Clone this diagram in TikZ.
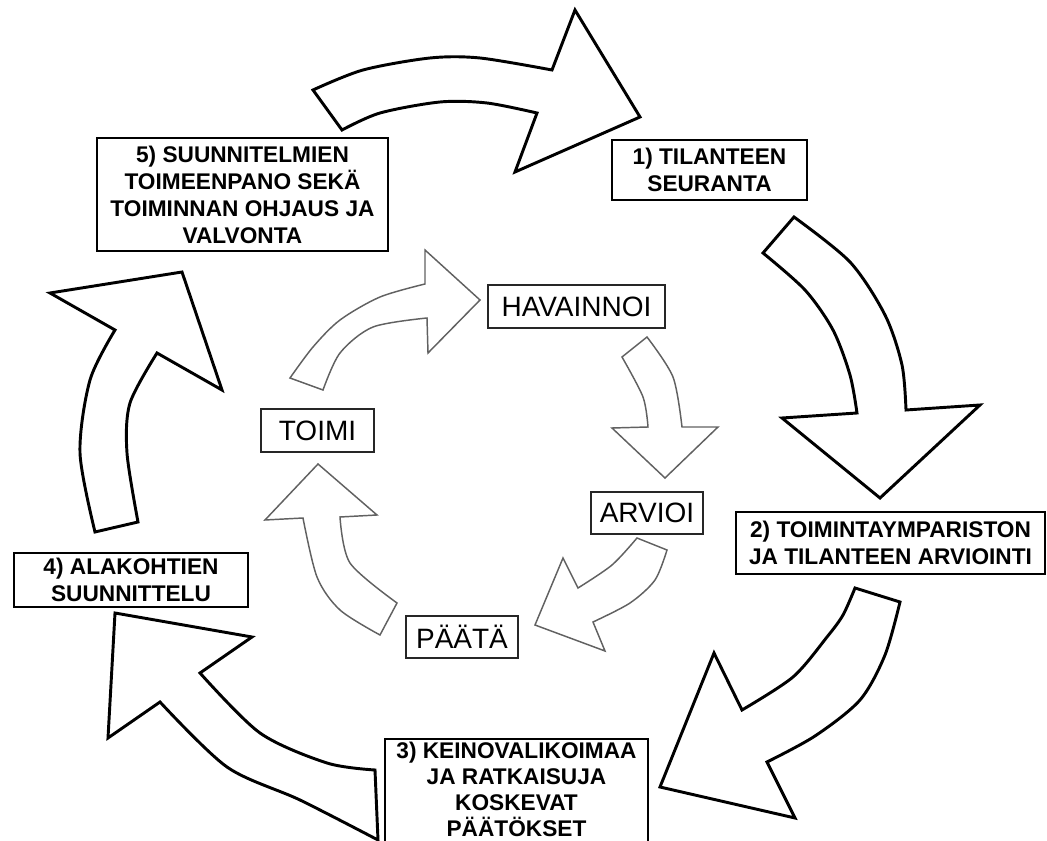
\documentclass[tikz,border=0pt]{standalone}
\usepackage{fontspec}
\setmainfont{Liberation Sans}
\begin{document}
\begin{tikzpicture}[x=0.75pt,y=-0.75pt,
  boxline/.style={draw=black, line width=1.5pt},
  outerlabel/.style={boxline, align=center, inner sep=0pt,
    font=\bfseries\fontsize{17}{20.25}\selectfont},
  innerlabel/.style={draw=black!85, line width=1.2pt, inner sep=0pt,
    font=\fontsize{21}{24}\selectfont},
  bigarrow/.style={draw=black, line width=2.2pt, fill=white, line join=miter},
  smallarrow/.style={draw=black!62, line width=1.1pt, fill=white, line join=miter}]
\useasboundingbox (0,0) rectangle (1047,841);

% outer cycle: five management phases
\node[outerlabel, minimum width=218.25pt, minimum height=84.75pt] (plan) at (242.5,195)
  {5) SUUNNITELMIEN\\TOIMEENPANO SEKÄ\\TOIMINNAN OHJAUS JA\\VALVONTA};
\node[outerlabel, minimum width=146.25pt, minimum height=45pt] (follow) at (709.5,170)
  {1) TILANTEEN\\SEURANTA};
\node[outerlabel, minimum width=231.75pt, minimum height=46.5pt] (assess) at (890.5,543)
  {2) TOIMINTAYMPARISTON\\JA TILANTEEN ARVIOINTI};
% phase 3 runs past the lower edge: its frame and its text are set apart
\node[boxline, minimum width=197.25pt, minimum height=96pt] (decideframe) at (516.5,803) {};
\node[align=center, inner sep=0pt, font=\bfseries\fontsize{17}{19.5}\selectfont]
  (decide) at (516.5,789)
  {3) KEINOVALIKOIMAA\\JA RATKAISUJA\\KOSKEVAT\\PÄÄTÖKSET};
\node[outerlabel, minimum width=175.5pt, minimum height=40.5pt] (detail) at (131,580)
  {4) ALAKOHTIEN\\SUUNNITTELU};

% inner cycle: observe, assess, decide, act
\node[innerlabel, minimum width=132.75pt, minimum height=32.25pt] (obs) at (576.5,306.5) {HAVAINNOI};
\node[innerlabel, minimum width=84pt, minimum height=31.5pt] (eval) at (647,513) {ARVIOI};
\node[innerlabel, minimum width=84pt, minimum height=31.5pt] (dec) at (462,637) {PÄÄTÄ};
\node[innerlabel, minimum width=84.75pt, minimum height=32.25pt] (act) at (317.5,430.5) {TOIMI};

% large block arrows of the outer cycle
\draw[bigarrow] (342,130) -- (313,90)
  -- plot[smooth] coordinates {(313,90) (363,70) (430,58) (480,58) (552,70)}
  -- (575,10) -- (640,117) -- (515,172) -- (537,113)
  -- plot[smooth] coordinates {(537,113) (487,103) (440,102) (380,113) (342,130)}
  -- cycle;
\draw[bigarrow] (794,217) -- (763,253)
  -- plot[smooth] coordinates {(763,253) (805,290) (833,330) (850,375) (857,413)}
  -- (782,418) -- (880,498) -- (980,405) -- (906,410)
  -- plot[smooth] coordinates {(906,410) (902,365) (885,315) (850,262) (794,217)}
  -- cycle;
\draw[bigarrow] (900,602) -- (855,588)
  -- plot[smooth] coordinates {(855,588) (843,615) (827,637) (793,677) (742,710)}
  -- (714,653) -- (660,787) -- (795,818) -- (767,762)
  -- plot[smooth] coordinates {(767,762) (815,736) (860,700) (885,655) (900,602)}
  -- cycle;
\draw[bigarrow] (378,840) -- (375,770)
  -- plot[smooth] coordinates {(375,770) (327,763) (260,733) (200,673)}
  -- (252,637) -- (115,613) -- (108,738) -- (160,702)
  -- plot[smooth] coordinates {(160,702) (227,767) (300,800) (378,840)}
  -- cycle;
\draw[bigarrow] (95,532) -- (138,522)
  -- plot[smooth] coordinates {(138,522) (127,453) (130,403) (157,353)}
  -- (222,390) -- (182,272) -- (50,293) -- (115,330)
  -- plot[smooth] coordinates {(115,330) (90,380) (80,453) (95,532)}
  -- cycle;

% small grey block arrows of the inner cycle
\draw[smallarrow] (323,390) -- (290,378)
  -- plot[smooth] coordinates {(290,378) (313,347) (340,320) (380,297) (425,284)}
  -- (425,250) -- (480,300) -- (428,353) -- (427,318)
  -- plot[smooth] coordinates {(427,318) (373,327) (340,353) (323,390)}
  -- cycle;
\draw[smallarrow] (647,337) -- (622,357)
  -- plot[smooth] coordinates {(622,357) (643,397) (648,427)}
  -- (612,428) -- (665,478) -- (718,427) -- (682,427)
  -- plot[smooth] coordinates {(682,427) (673,377) (647,337)}
  -- cycle;
\draw[smallarrow] (667,550) -- (637,538)
  -- plot[smooth] coordinates {(637,538) (612,565) (578,588)}
  -- (563,558) -- (535,625) -- (605,651) -- (593,622)
  -- plot[smooth] coordinates {(593,622) (630,603) (655,580) (667,550)}
  -- cycle;
\draw[smallarrow] (397,603) -- (380,635)
  -- plot[smooth] coordinates {(380,635) (340,610) (317,577) (303,518)}
  -- (265,520) -- (318,464) -- (377,515) -- (340,517)
  -- plot[smooth] coordinates {(340,517) (350,563) (397,603)}
  -- cycle;
\end{tikzpicture}
\end{document}
